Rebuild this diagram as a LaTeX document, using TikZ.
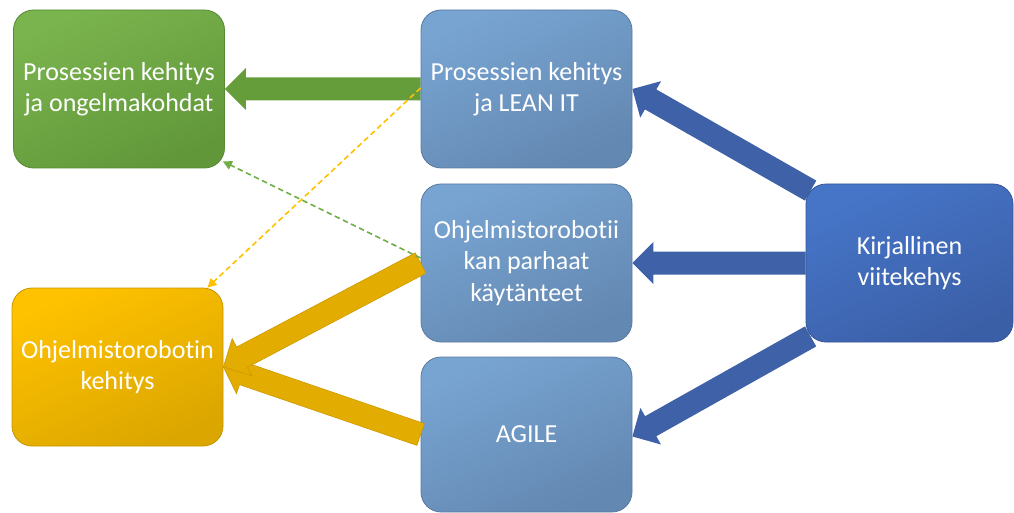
\documentclass[tikz,border=0pt]{standalone}
\usepackage{fontspec}
\setmainfont{Carlito}[Ligatures={NoCommon}]
\usetikzlibrary{calc,arrows.meta,backgrounds}

\definecolor{grnA}{RGB}{122,180,78}
\definecolor{grnB}{RGB}{97,151,57}
\definecolor{bluA}{RGB}{120,164,210}
\definecolor{bluB}{RGB}{99,136,177}
\definecolor{kirA}{RGB}{70,117,200}
\definecolor{kirB}{RGB}{59,95,167}
\definecolor{yelA}{RGB}{255,194,0}
\definecolor{yelB}{RGB}{219,166,0}
\definecolor{grnArrow}{RGB}{101,157,59}
\definecolor{bluArrow}{RGB}{62,97,168}
\definecolor{yelArrow}{RGB}{226,172,0}
\definecolor{yelEdge}{RGB}{205,154,0}
\definecolor{dashGrn}{RGB}{112,173,71}
\definecolor{dashYel}{RGB}{255,192,0}

\tikzset{
  box/.style={rounded corners=20pt, minimum width=211pt, minimum height=158pt,
    inner sep=0pt, align=center, text=white, line width=0.8pt,
    font=\fontsize{26}{31.5}\selectfont},
  greenbox/.style={box, draw=grnB!90!black, top color=grnA, bottom color=grnB, shading angle=25},
  bluebox/.style={box, draw=bluB!90!black, top color=bluA, bottom color=bluB, shading angle=25},
  sourcebox/.style={box, draw=kirB!90!black, top color=kirA, bottom color=kirB, shading angle=25},
  yellowbox/.style={box, draw=yelB!90!black, top color=yelA, bottom color=yelB, shading angle=25},
  dashline/.style={line width=1.6pt, dash pattern=on 5.5pt off 3.5pt,
    -{Triangle[length=9pt,width=9pt]}},
}

% filled block arrow: #1 style, #2 tail point, #3 tip point
\newcommand\blockarrow[3]{%
  \coordinate (ba-s) at (#2);
  \coordinate (ba-e) at (#3);
  \coordinate (ba-h) at ($(ba-e)!21pt!(ba-s)$);
  \path[#1] ($(ba-s)!11.5pt!90:(ba-e)$) -- ($(ba-h)!11.5pt!90:(ba-e)$)
    -- ($(ba-h)!21pt!90:(ba-e)$) -- (ba-e) -- ($(ba-h)!21pt!-90:(ba-e)$)
    -- ($(ba-h)!11.5pt!-90:(ba-e)$) -- ($(ba-s)!11.5pt!-90:(ba-e)$) -- cycle;
}

\begin{document}
\begin{tikzpicture}[x=1pt, y=-1pt]
  \useasboundingbox (0,0) rectangle (1014,513);

  % boxes
  \node[greenbox] (green) at (119,89) {Prosessien kehitys\\ja ongelmakohdat};
  \node[bluebox] (top) at (526.5,89) {Prosessien kehitys\\ja LEAN IT};
  \node[bluebox] (mid) at (526.5,263) {Ohjelmistorobotii\\kan parhaat\\käytänteet};
  \node[bluebox, minimum height=155pt] (agile) at (526.5,434.5) {AGILE};
  \node[yellowbox] (orange) at (117.5,367) {Ohjelmistorobotin\\kehitys};
  \node[sourcebox, minimum width=207pt] (kir) at (909.5,263) {Kirjallinen\\viitekehys};

  % block arrows behind the boxes
  \begin{pgfonlayer}{background}
    \blockarrow{fill=grnArrow}{top.west}{green.east}
    \blockarrow{fill=bluArrow}{$(kir.north west)+(5,7)$}{top.east}
    \blockarrow{fill=bluArrow}{kir.west}{mid.east}
    \blockarrow{fill=bluArrow}{$(kir.south west)+(5,-6)$}{$(agile.east)+(0,2)$}
  \end{pgfonlayer}

  % block arrows into the development box
  \blockarrow{fill=yelArrow, draw=yelEdge, line width=0.6pt}{agile.west}{orange.east}
  \blockarrow{fill=yelArrow, draw=yelEdge, line width=0.6pt}{mid.west}{orange.east}

  % dashed links
  \draw[dashline, dashGrn] ($(mid.west)+(0,-5)$) -- ($(green.south east)+(-2,-7)$);
  \draw[dashline, dashYel] ($(top.west)+(0,-1)$) -- ($(orange.north east)+(-16,0)$);
\end{tikzpicture}
\end{document}
